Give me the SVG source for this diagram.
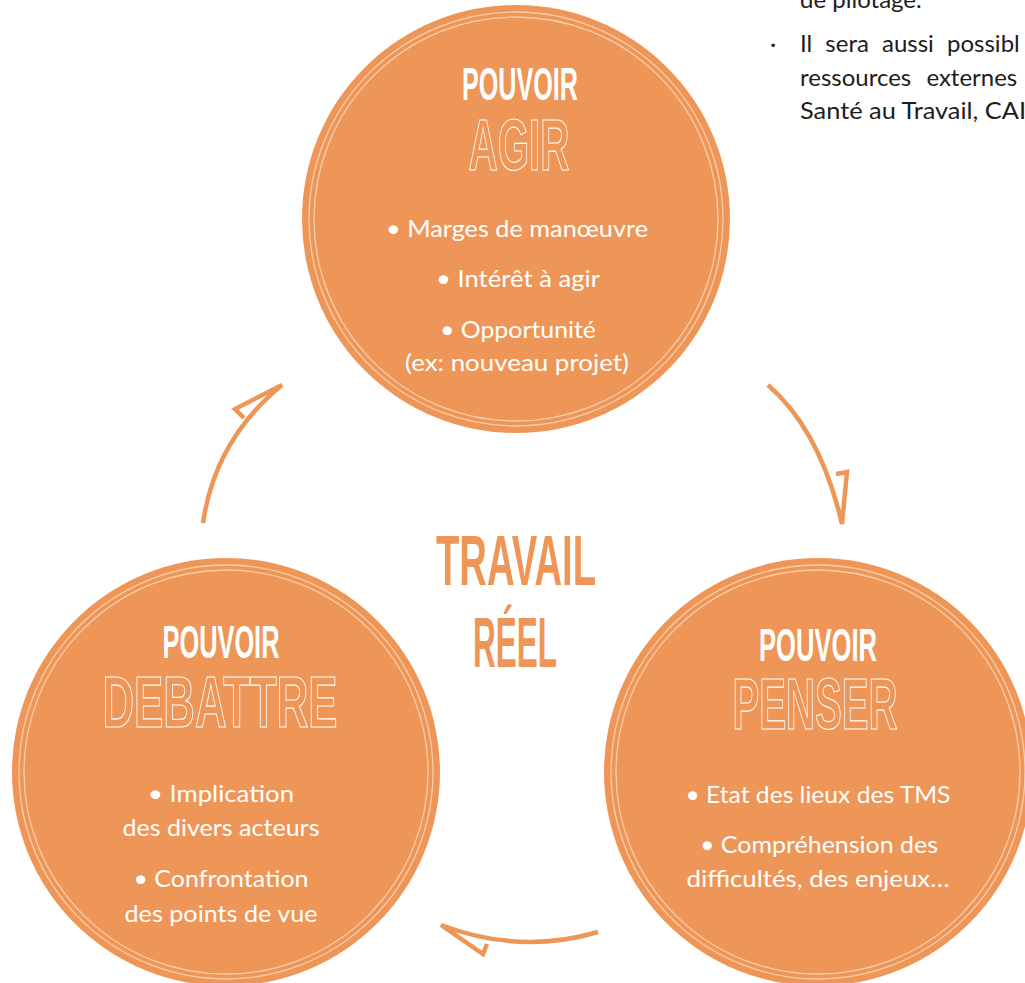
<svg xmlns="http://www.w3.org/2000/svg" width="1025" height="983" viewBox="0 0 1025 983">
  <style>
    .disc { fill: #EE9658; }
    .ring { fill: none; stroke: #F8CDAA; stroke-width: 1.3; }
    .pv { font-family: "Liberation Sans Narrow", "Liberation Sans", "DejaVu Sans Condensed", sans-serif; font-weight: bold; font-size: 46px; fill: #ffffff; text-anchor: middle; }
    .big { font-family: "Liberation Sans Narrow", "Liberation Sans", sans-serif; font-weight: bold; font-size: 72px; fill: none; stroke: #ffffff; stroke-width: 1.2; text-anchor: middle; }
    .body { font-family: Lato, "Open Sans", "Liberation Sans", sans-serif; font-size: 24px; fill: #ffffff; text-anchor: middle; }
    .center { font-family: "Liberation Sans Narrow", "Liberation Sans", sans-serif; font-weight: bold; font-size: 70px; fill: #EE9658; text-anchor: middle; }
    .doc { font-family: Lato, "Open Sans", "Liberation Sans", sans-serif; font-size: 24px; fill: #1d1d1b; }
    .arrow { fill: none; stroke: #EE9658; stroke-width: 4.5; stroke-linejoin: miter; stroke-linecap: butt; }
  </style>

  <g id="page-text">
    <text class="doc" x="800" y="8">de pilotage.</text>
    <text class="doc" x="770" y="52">·</text>
    <text class="doc" x="800" y="52" word-spacing="7">Il sera aussi possibl</text>
    <text class="doc" x="800" y="86" word-spacing="9">ressources externes</text>
    <text class="doc" x="800" y="119" textLength="226" lengthAdjust="spacingAndGlyphs">Santé au Travail, CAI</text>
  </g>

  <g id="connectors">
    <path class="arrow" d="M203,523 Q215,440 282,385 L235,409 L244,418"/>
    <path class="arrow" d="M768,385 Q820,430 842,524 L847,472 L836,474"/>
    <path class="arrow" d="M598,932 Q520,955 441,925 L483,954 L487,944"/>
  </g>

  <g id="node-agir">
    <circle class="disc" cx="516" cy="219" r="214"/>
    <circle class="ring" cx="516" cy="219" r="207"/>
    <circle class="ring" cx="516" cy="219" r="202"/>
    <text class="pv" x="520" y="100" textLength="116" lengthAdjust="spacingAndGlyphs">POUVOIR</text>
    <text class="big" x="519" y="170" textLength="101" lengthAdjust="spacingAndGlyphs">AGIR</text>
    <text class="body" x="517" y="237" textLength="262" lengthAdjust="spacingAndGlyphs">• Marges de manœuvre</text>
    <text class="body" x="518" y="287" textLength="164" lengthAdjust="spacingAndGlyphs">•  Intérêt à agir</text>
    <text class="body" x="518" y="338" textLength="156" lengthAdjust="spacingAndGlyphs">• Opportunité</text>
    <text class="body" x="517" y="371" textLength="224" lengthAdjust="spacingAndGlyphs">(ex: nouveau projet)</text>
  </g>

  <g id="node-travail-reel">
    <text class="center" x="516" y="585" textLength="160" lengthAdjust="spacingAndGlyphs">TRAVAIL</text>
    <text class="center" x="515" y="667" textLength="84" lengthAdjust="spacingAndGlyphs">RÉEL</text>
  </g>

  <g id="node-debattre">
    <circle class="disc" cx="226" cy="772" r="214"/>
    <circle class="ring" cx="226" cy="772" r="207"/>
    <circle class="ring" cx="226" cy="772" r="202"/>
    <text class="pv" x="221" y="658" textLength="117" lengthAdjust="spacingAndGlyphs">POUVOIR</text>
    <text class="big" x="220" y="727" textLength="235" lengthAdjust="spacingAndGlyphs">DEBATTRE</text>
    <text class="body" x="221" y="802" textLength="146" lengthAdjust="spacingAndGlyphs">• Implication</text>
    <text class="body" x="221" y="836" textLength="197" lengthAdjust="spacingAndGlyphs">des divers acteurs</text>
    <text class="body" x="221" y="887" textLength="175" lengthAdjust="spacingAndGlyphs">• Confrontation</text>
    <text class="body" x="221" y="922" textLength="193" lengthAdjust="spacingAndGlyphs">des points de vue</text>
  </g>

  <g id="node-penser">
    <circle class="disc" cx="818" cy="772" r="214"/>
    <circle class="ring" cx="818" cy="772" r="207"/>
    <circle class="ring" cx="818" cy="772" r="202"/>
    <text class="pv" x="818" y="661" textLength="118" lengthAdjust="spacingAndGlyphs">POUVOIR</text>
    <text class="big" x="815" y="729" textLength="165" lengthAdjust="spacingAndGlyphs">PENSER</text>
    <text class="body" x="818" y="803" textLength="265" lengthAdjust="spacingAndGlyphs">• Etat des lieux des TMS</text>
    <text class="body" x="819" y="853" textLength="238" lengthAdjust="spacingAndGlyphs">• Compréhension des</text>
    <text class="body" x="818" y="887" textLength="263" lengthAdjust="spacingAndGlyphs">difficultés, des enjeux…</text>
  </g>
</svg>
